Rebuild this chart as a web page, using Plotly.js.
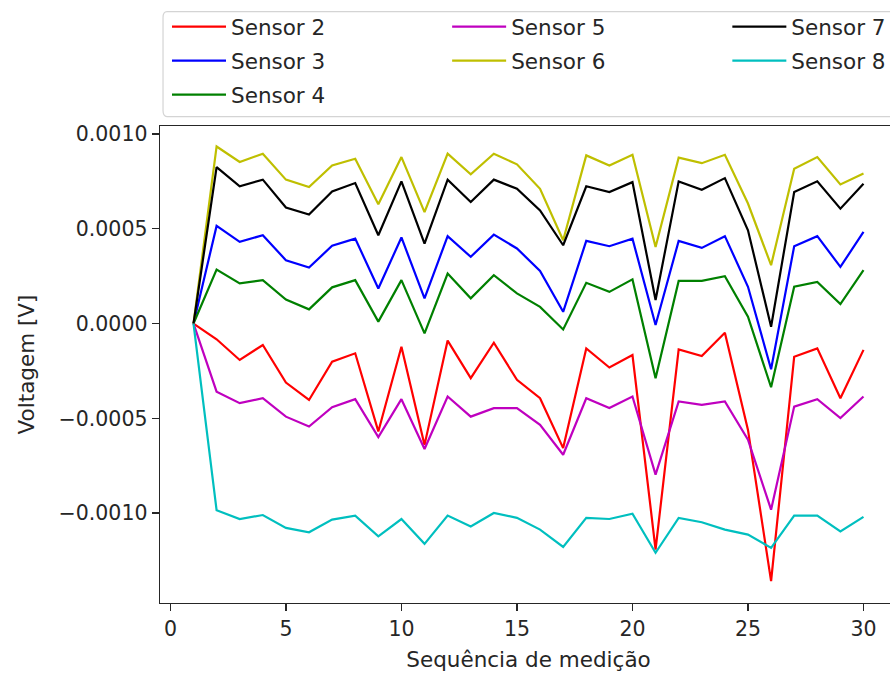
<!DOCTYPE html>
<html>
<head>
<meta charset="utf-8">
<script src="https://cdn.plot.ly/plotly-3.0.1.min.js"></script>
<style>
  html, body { margin: 0; padding: 0; overflow: hidden; background: #fff; }
  #wrap { width: 890px; height: 675px; overflow: hidden; }
</style>
</head>
<body>
<div id="wrap"><div id="chart"></div></div>
<script>
// Measurement sequence index
const seq = [1, 2, 3, 4, 5, 6, 7, 8, 9, 10, 11, 12, 13, 14, 15,
             16, 17, 18, 19, 20, 21, 22, 23, 24, 25, 26, 27, 28, 29, 30];

// Voltage per sensor [V]
const sensor2 = [0, -0.000083, -0.000192, -0.000113, -0.000311, -0.000403, -0.000201, -0.000157, -0.000569, -0.000122,
                 -0.00064, -0.00009, -0.000288, -0.000101, -0.000297, -0.000394, -0.000657, -0.000131, -0.000232, -0.000166,
                 -0.001192, -0.000136, -0.000171, -0.000048, -0.000561, -0.001359, -0.000175, -0.000131, -0.000394, -0.000139];
const sensor3 = [0, 0.000515, 0.000431, 0.000466, 0.000334, 0.000296, 0.00041, 0.000448, 0.000185, 0.000454,
                 0.000133, 0.000461, 0.000352, 0.000469, 0.000396, 0.000278, 0.000062, 0.000436, 0.000408, 0.000448,
                 -0.000008, 0.000436, 0.000399, 0.000461, 0.000194, -0.000241, 0.000408, 0.000461, 0.000299, 0.000483];
const sensor4 = [0, 0.000285, 0.000212, 0.000229, 0.000127, 0.000075, 0.000191, 0.000229, 0.00001, 0.000229,
                 -0.000052, 0.000264, 0.000133, 0.000255, 0.000159, 0.000088, -0.000031, 0.000215, 0.000167, 0.000233,
                 -0.000288, 0.000225, 0.000225, 0.00025, 0.000036, -0.000336, 0.000194, 0.00022, 0.000103, 0.000282];
const sensor5 = [0, -0.000359, -0.00042, -0.000394, -0.000491, -0.000543, -0.000441, -0.000399, -0.000599, -0.000399,
                 -0.000662, -0.000385, -0.000491, -0.000446, -0.000446, -0.000534, -0.000692, -0.000394, -0.000446, -0.000385,
                 -0.000797, -0.000411, -0.000429, -0.000411, -0.000613, -0.000982, -0.000438, -0.000399, -0.000499, -0.000385];
const sensor6 = [0, 0.000934, 0.000852, 0.000896, 0.000759, 0.00072, 0.000834, 0.000869, 0.000629, 0.000878,
                 0.000588, 0.000896, 0.000787, 0.000896, 0.00084, 0.000711, 0.000439, 0.000887, 0.000834, 0.00089,
                 0.000404, 0.000875, 0.000846, 0.00089, 0.000633, 0.000308, 0.000817, 0.000878, 0.000734, 0.000791];
const sensor7 = [0, 0.000825, 0.000724, 0.000759, 0.000612, 0.000575, 0.000697, 0.000741, 0.000466, 0.00075,
                 0.000422, 0.000759, 0.000641, 0.000759, 0.000711, 0.000597, 0.000413, 0.000724, 0.000694, 0.000746,
                 0.000124, 0.00075, 0.000706, 0.000767, 0.000492, -0.000017, 0.000694, 0.00075, 0.000606, 0.000738];
const sensor8 = [0, -0.000985, -0.001031, -0.00101, -0.001078, -0.001101, -0.001034, -0.001013, -0.001122, -0.001031,
                 -0.001162, -0.001013, -0.00107, -0.000999, -0.001025, -0.001087, -0.001178, -0.001025, -0.001031, -0.001003,
                 -0.001209, -0.001025, -0.001048, -0.001087, -0.001113, -0.001183, -0.001013, -0.001013, -0.001096, -0.00102];

const seriesNames = ['Sensor 2', 'Sensor 3', 'Sensor 4', 'Sensor 5', 'Sensor 6', 'Sensor 7', 'Sensor 8'];
const seriesValues = [sensor2, sensor3, sensor4, sensor5, sensor6, sensor7, sensor8];
const seriesColors = ['#ff0000', '#0000ff', '#008000', '#bf00bf', '#bfbf00', '#000000', '#00bfbf'];
// three legend columns, filled column by column
const legendIds = ['legend', 'legend', 'legend', 'legend2', 'legend2', 'legend3', 'legend3'];

const FONT = 'DejaVu Sans, Liberation Sans, sans-serif';
const TEXT = '#262626';

const traces = seriesNames.map((name, i) => ({
  type: 'scatter',
  mode: 'lines',
  name: name,
  x: seq,
  y: seriesValues[i],
  line: { color: seriesColors[i], width: 2.2 },
  legend: legendIds[i],
  legendgroup: name
}));

const legendBase = {
  orientation: 'v',
  xanchor: 'left',
  yanchor: 'top',
  y: 1.2485,
  bgcolor: 'rgba(0,0,0,0)',
  borderwidth: 0,
  itemwidth: 54,
  tracegroupgap: 3,
  font: { family: FONT, size: 21.5, color: TEXT },
  itemclick: false,
  itemdoubleclick: false
};

const axisCommon = {
  showgrid: false,
  zeroline: false,
  showline: true,
  mirror: true,
  linecolor: '#262626',
  linewidth: 1.4,
  ticks: 'outside',
  ticklen: 7,
  tickwidth: 1.3,
  tickcolor: '#262626',
  tickfont: { family: FONT, size: 20.5, color: TEXT }
};

const layout = {
  width: 905,
  height: 675,
  margin: { l: 160, r: 8, t: 125, b: 72 },
  paper_bgcolor: '#fff',
  plot_bgcolor: '#fff',
  font: { family: FONT, color: TEXT },
  showlegend: true,
  legend: Object.assign({}, legendBase, { x: 0.0095 }),
  legend2: Object.assign({}, legendBase, { x: 0.3896 }),
  legend3: Object.assign({}, legendBase, { x: 0.7698 }),
  xaxis: Object.assign({}, axisCommon, {
    range: [-0.45, 31.45],
    tick0: 0,
    dtick: 5,
    title: { text: 'Sequência de medição', font: { family: FONT, size: 21.5, color: TEXT }, standoff: 12 }
  }),
  yaxis: Object.assign({}, axisCommon, {
    range: [-0.001474, 0.001042],
    tick0: 0,
    dtick: 0.0005,
    tickformat: '.4f',
    title: { text: 'Voltagem [V]', font: { family: FONT, size: 21.5, color: TEXT }, standoff: 18 }
  }),
  shapes: [{
    // legend frame with rounded corners
    type: 'path',
    xref: 'paper',
    yref: 'paper',
    path: 'M 0.0041,1.2270 Q 0.0041,1.2396 0.0095,1.2396 L 1.03,1.2396 L 1.03,1.0197 L 0.0095,1.0197 Q 0.0041,1.0197 0.0041,1.0323 Z',
    line: { color: '#d4d4d4', width: 1.2 },
    fillcolor: 'rgba(255,255,255,0.8)',
    layer: 'below'
  }]
};

Plotly.newPlot('chart', traces, layout, { staticPlot: true, displayModeBar: false });
</script>
</body>
</html>
